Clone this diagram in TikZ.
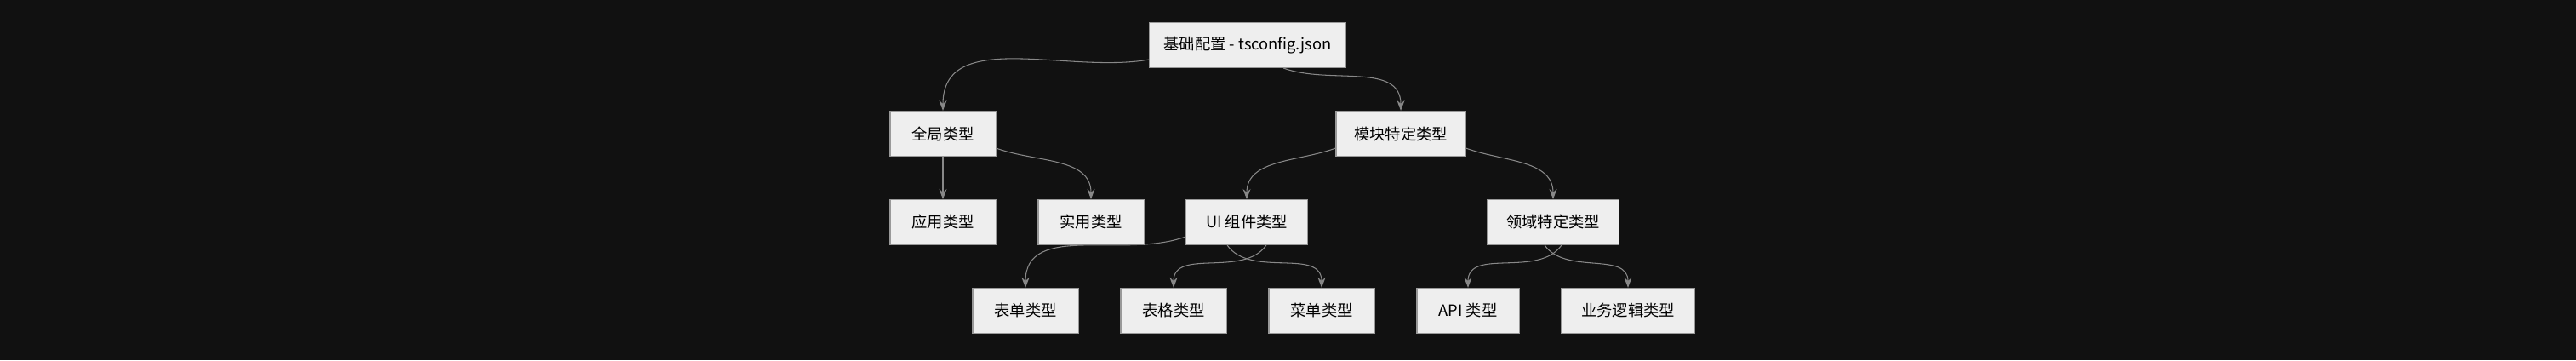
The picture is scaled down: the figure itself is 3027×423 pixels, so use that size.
\documentclass[tikz,border=0pt]{standalone}
\usepackage{fontspec}
\setmainfont{Noto Sans CJK SC}
\usetikzlibrary{positioning,arrows.meta}
\definecolor{bgdark}{HTML}{111111}
\definecolor{boxfill}{HTML}{EEEEEE}
\definecolor{boxline}{HTML}{999999}
\definecolor{linkgray}{HTML}{888888}
\tikzset{
  typebox/.style={draw=boxline, fill=boxfill, line width=0.3pt, minimum height=0.53cm, inner sep=0pt, font=\fontsize{5.2}{6}\selectfont},
  link/.style={draw=linkgray, line width=0.3pt, -{Stealth[length=1.2mm,width=0.9mm]}}
}
\begin{document}
\begin{tikzpicture}[x=0.01cm, y=-0.01cm]
  % background
  \fill[bgdark] (0,0) rectangle (3027,423);
  \useasboundingbox (0,0) rectangle (3027,423);

  % top level
  \node[typebox, minimum width=2.31cm] (base) at (1466,53) {基础配置 - tsconfig.json};

  % second level
  \node[typebox, minimum width=1.24cm] (global) at (1108,157) {全局类型};
  \node[typebox, minimum width=1.52cm] (module) at (1646,157) {模块特定类型};

  % third level
  \node[typebox, minimum width=1.24cm] (app) at (1108,261) {应用类型};
  \node[typebox, minimum width=1.24cm] (util) at (1282,261) {实用类型};
  \node[typebox, minimum width=1.43cm] (ui) at (1465,261) {UI 组件类型};
  \node[typebox, minimum width=1.55cm] (domain) at (1825,261) {领域特定类型};

  % bottom level
  \node[typebox, minimum width=1.24cm] (form) at (1205,365) {表单类型};
  \node[typebox, minimum width=1.24cm] (table) at (1379,365) {表格类型};
  \node[typebox, minimum width=1.24cm] (menu) at (1553,365) {菜单类型};
  \node[typebox, minimum width=1.20cm] (api) at (1725,365) {API 类型};
  \node[typebox, minimum width=1.56cm] (logic) at (1913,365) {业务逻辑类型};

  % links
  \draw[link] (base.south west) ++(0,-10) to[out=190, in=90] (global.north);
  \draw[link] ([xshift=-21]base.south east) to[out=-20, in=90] (module.north);
  \draw[link] (global.south) -- (app.north);
  \draw[link] (global.south east) ++(0,-10) to[out=-20, in=90] (util.north);
  \draw[link] (module.south west) ++(0,-10) to[out=200, in=90] (ui.north);
  \draw[link] (module.south east) ++(0,-10) to[out=-20, in=90] (domain.north);
  \draw[link] (ui.south west) ++(0,-10) to[out=200, in=90] (form.north);
  \draw[link] ([xshift=27]ui.south west) to[out=235, in=90] (table.north);
  \draw[link] ([xshift=-27]ui.south east) to[out=-55, in=90] (menu.north);
  \draw[link] ([xshift=25]domain.south west) to[out=235, in=90] (api.north);
  \draw[link] ([xshift=-25]domain.south east) to[out=-55, in=90] (logic.north);
\end{tikzpicture}
\end{document}
